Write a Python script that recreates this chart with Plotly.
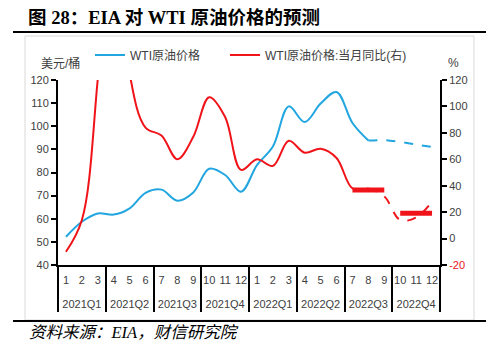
import plotly.graph_objects as go

# ---- data ----
quarters = ["2021Q1", "2021Q2", "2021Q3", "2021Q4", "2022Q1", "2022Q2", "2022Q3", "2022Q4"]
months_in_q = [["1", "2", "3"], ["4", "5", "6"], ["7", "8", "9"], ["10", "11", "12"]] * 2

# WTI price (USD/bbl), actual Jan 2021 - Aug 2022
wti_actual = [52.2, 58.7, 62.3, 61.8, 64.5, 71.2, 72.6, 67.8, 71.4, 81.6, 78.9, 71.7,
              83.2, 91.2, 108.6, 101.8, 109.8, 114.8, 101.4, 93.8]
# EIA forecast Aug 2022 - Dec 2022
wti_forecast = [93.8, 94.0, 93.2, 92.1, 91.0]
# YoY (%), actual Jan 2021 - Aug 2022
yoy_actual = [-10, 14, 121, 274, 125, 84, 78, 60, 77, 107, 92, 52,
              60, 55, 74, 65, 68, 61, 38, 38]
# YoY forecast Aug 2022 - Dec 2022
yoy_forecast = [38, 32, 14, 16, 28]
# quarterly average YoY (thick bars)
yoy_q3 = 36.8
yoy_q4 = 19.2

# ---- build x ----
xq, xm = [], []
for q, ms in zip(quarters, months_in_q):
    for m in ms:
        xq.append(q)
        xm.append(m + "<br>&nbsp;")
N = len(xm)

def pad(vals, start):
    arr = [None] * N
    for i, v in enumerate(vals):
        arr[start + i] = v
    return arr

BLUE = "#21A6E0"
RED = "#F0141A"
FONT = "Liberation Sans, Noto Sans CJK SC"

fig = go.Figure()
fig.add_trace(go.Scatter(x=[xq, xm], y=pad(wti_actual, 0), mode="lines",
                         line=dict(color=BLUE, width=2, shape="spline", smoothing=1),
                         name="WTI原油价格", yaxis="y", legend="legend"))
fig.add_trace(go.Scatter(x=[xq, xm], y=pad(yoy_actual, 0), mode="lines",
                         line=dict(color=RED, width=2, shape="spline", smoothing=1),
                         name="WTI原油价格:当月同比(右)", yaxis="y2", legend="legend2"))
fig.add_trace(go.Scatter(x=[xq, xm], y=pad(wti_forecast, 19), mode="lines",
                         line=dict(color=BLUE, width=2, dash="dash", shape="spline", smoothing=1),
                         showlegend=False, yaxis="y"))
fig.add_trace(go.Scatter(x=[xq, xm], y=pad(yoy_forecast, 19), mode="lines",
                         line=dict(color=RED, width=2, dash="dash", shape="spline", smoothing=1),
                         showlegend=False, yaxis="y2"))
fig.add_trace(go.Scatter(x=[xq, xm], y=pad([yoy_q3] * 3, 18), mode="lines",
                         line=dict(color=RED, width=5),
                         showlegend=False, yaxis="y2"))
fig.add_trace(go.Scatter(x=[xq, xm], y=pad([yoy_q4] * 3, 21), mode="lines",
                         line=dict(color=RED, width=5),
                         showlegend=False, yaxis="y2"))

# plot area in pixels
L, R, T, B = 58, 440, 80, 265
W, H = R - L, B - T
def px(x):
    return (x - L) / W
def py(y):
    return (B - y) / H

shapes = [
    dict(type="rect", xref="paper", yref="paper", x0=px(25), x1=px(474), y0=py(320), y1=py(36),
         line=dict(color="#D9D9D9", width=1), layer="below"),
    dict(type="line", xref="paper", yref="paper", x0=px(13), x1=px(486), y0=py(32), y1=py(32),
         line=dict(color="black", width=2)),
    dict(type="line", xref="paper", yref="paper", x0=px(13), x1=px(486), y0=py(321), y1=py(321),
         line=dict(color="black", width=2)),
]

annotations = [
    dict(text="<b>图 28：EIA 对 WTI 原油价格的预测</b>", xref="paper", yref="paper",
         x=px(26), y=py(18), xanchor="left", yanchor="middle", showarrow=False,
         font=dict(family="Liberation Serif, Noto Sans CJK SC", size=18.5, color="black")),
    dict(text="<i>资料来源：EIA，财信研究院</i>", xref="paper", yref="paper",
         x=px(27), y=py(332), xanchor="left", yanchor="middle", showarrow=False,
         font=dict(family="Liberation Serif, Noto Sans CJK SC", size=16.5, color="black")),
    dict(text="美元/桶", xref="paper", yref="paper", x=px(60), y=py(63),
         xanchor="center", yanchor="middle", showarrow=False,
         font=dict(family=FONT, size=12, color="#404040")),
    dict(text="%", xref="paper", yref="paper", x=px(453), y=py(63),
         xanchor="center", yanchor="middle", showarrow=False,
         font=dict(family=FONT, size=12, color="#404040")),
]

right_vals = [-20, 0, 20, 40, 60, 80, 100, 120]
right_text = ['<span style="color:#E8141B">-20</span>'] + [str(v) for v in right_vals[1:]]

legend_font = dict(family=FONT, size=12, color="#404040")

fig.update_layout(
    width=500, height=351,
    margin=dict(l=L, r=500 - R, t=T, b=351 - B),
    paper_bgcolor="white", plot_bgcolor="white",
    font=dict(family=FONT, size=11, color="#404040"),
    showlegend=True,
    legend=dict(orientation="h", x=px(90), y=py(55), xanchor="left", yanchor="middle",
                font=legend_font, bgcolor="rgba(0,0,0,0)"),
    legend2=dict(orientation="h", x=px(225), y=py(55), xanchor="left", yanchor="middle",
                 font=legend_font, bgcolor="rgba(0,0,0,0)"),
    xaxis=dict(type="multicategory", range=[-0.5, N - 0.5], showgrid=False, showline=True,
               linecolor="black", linewidth=2, tickangle=0, ticklabelstandoff=4,
               showdividers=True, dividercolor="black", dividerwidth=2, ticks="",
               tickfont=dict(family=FONT, size=11, color="#404040")),
    yaxis=dict(range=[40, 120], dtick=10, showgrid=False, showline=True, linecolor="black",
               linewidth=2, ticks="outside", ticklen=5, tickwidth=1.5, tickcolor="black",
               zeroline=False, tickfont=dict(family=FONT, size=11, color="#404040")),
    yaxis2=dict(range=[-20, 120], overlaying="y", side="right", showgrid=False, showline=True,
                linecolor="black", linewidth=2, ticks="outside", ticklen=5, tickwidth=1.5,
                tickcolor="black", zeroline=False, tickvals=right_vals, ticktext=right_text,
                tickfont=dict(family=FONT, size=11, color="#404040")),
    shapes=shapes, annotations=annotations,
)

fig.write_html("out.html")
